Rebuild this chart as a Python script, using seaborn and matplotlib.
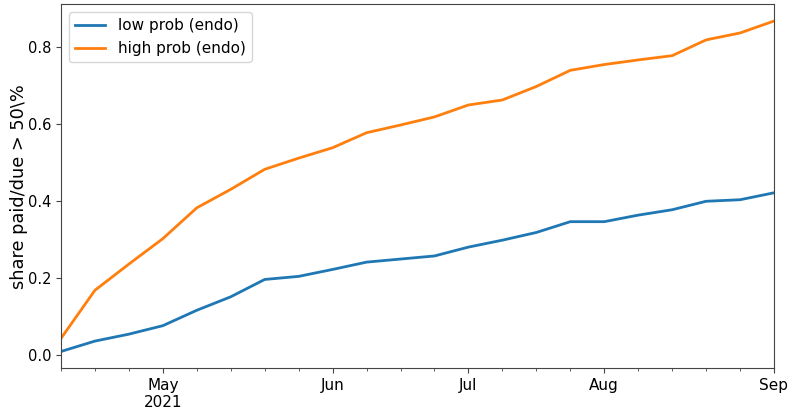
import numpy as np
import pandas as pd
import matplotlib
matplotlib.use("Agg")
import matplotlib.pyplot as plt
import seaborn as sns

# weekly periods (W-SUN), week ending dates
week_end = pd.date_range("2021-04-11", periods=22, freq="W-SUN")

low_prob = [0.009, 0.036, 0.054, 0.076, 0.116, 0.151, 0.196, 0.204,
            0.222, 0.241, 0.249, 0.257, 0.280, 0.298, 0.318, 0.346,
            0.346, 0.363, 0.377, 0.399, 0.403, 0.421]
high_prob = [0.043, 0.168, 0.236, 0.302, 0.382, 0.430, 0.482, 0.511,
             0.538, 0.577, 0.597, 0.618, 0.649, 0.662, 0.697, 0.739,
             0.754, 0.766, 0.777, 0.818, 0.836, 0.867]
series_names = ["low prob (endo)", "high prob (endo)"]
y_label = "share paid/due > 50\\%"

plt.rcParams["font.size"] = 11

n = len(week_end)
idx = np.arange(n)
df = pd.DataFrame({
    "week": np.concatenate([idx, idx]),
    "value": low_prob + high_prob,
    "series": [series_names[0]] * n + [series_names[1]] * n,
})

fig, ax = plt.subplots(figsize=(7.91, 4.11), dpi=100)
sns.lineplot(data=df, x="week", y="value", hue="series",
             palette=["#1f77b4", "#ff7f0e"], linewidth=2, ax=ax)

ax.set_xlim(idx[0], idx[-1])
ax.margins(x=0)

# monthly major ticks at the week containing the 1st of each month
major_pos = [i for i, d in enumerate(week_end) if d.day <= 7]
major_lab = []
first = True
for i in major_pos:
    d = week_end[i]
    if first:
        major_lab.append(f"{d.strftime('%b')}\n{d.year}")
        first = False
    else:
        major_lab.append(d.strftime("%b"))
ax.set_xticks(major_pos)
ax.set_xticklabels(major_lab)
ax.set_xticks([i for i in idx if i not in major_pos], minor=True)
ax.tick_params(axis="x", which="minor", length=2)
ax.tick_params(axis="y", labelsize=10.5)

for sp in ax.spines.values():
    sp.set_color("#444444")
ax.tick_params(which="both", color="#444444")

ax.set_xlabel("")
ax.set_ylabel(y_label, fontsize=12.8, labelpad=0)
ax.legend(loc="upper left")

fig.subplots_adjust(left=61/791, right=774/791, top=1 - 4.5/411, bottom=1 - 368/411)
fig.savefig("out.png", dpi=100)
